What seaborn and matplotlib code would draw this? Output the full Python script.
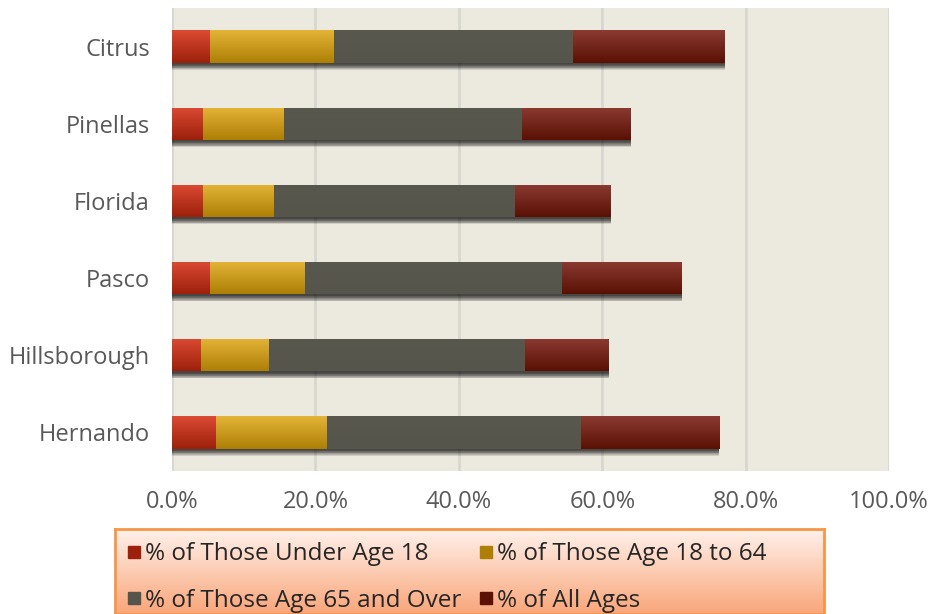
import numpy as np
import pandas as pd
import seaborn as sns
import matplotlib.pyplot as plt
from matplotlib import patheffects
from matplotlib.colors import to_rgb
from matplotlib.lines import Line2D
from matplotlib.ticker import PercentFormatter

# datos (porcentajes)
counties = ['Citrus', 'Pinellas', 'Florida', 'Pasco', 'Hillsborough', 'Hernando']
under_18 = [5.2, 4.3, 4.2, 5.2, 4.0, 6.0]
age_18_64 = [17.3, 11.3, 10.0, 13.3, 9.5, 15.5]
age_65_over = [33.3, 33.1, 33.5, 35.8, 35.6, 35.5]
all_ages = [21.2, 15.2, 13.5, 16.8, 11.8, 19.3]

series_names = ['% of Those Under Age 18', '% of Those Age 18 to 64',
                '% of Those Age 65 and Over', '% of All Ages']
# (arriba, abajo) para el degradado de cada serie
series_colors = [('#DC4A33', '#9C200B'), ('#E3B437', '#AD7F05'),
                 ('#58584F', '#55554C'), ('#8B3A31', '#5A1104')]

df = pd.DataFrame({'county': counties, series_names[0]: under_18,
                   series_names[1]: age_18_64, series_names[2]: age_65_over,
                   series_names[3]: all_ages})
cum = df[series_names].cumsum(axis=1)
cum['county'] = df['county']

sns.set_style('white')
plt.rcParams['font.family'] = ['Open Sans', 'DejaVu Sans']

fig = plt.figure(figsize=(9.3, 6.14), dpi=100)
ax = fig.add_axes([172 / 930, 1 - 471 / 614, (889 - 172) / 930, (471 - 8) / 614])
ax.set_facecolor('#ECE9DF')

# sombra difusa solo para la barra total
shadow = [patheffects.SimplePatchShadow(offset=(0.3, -k), shadow_rgbFace='k', alpha=0.12)
          for k in [1, 1.5, 2, 2.5, 3, 3.5, 4, 4.5, 5]] + [patheffects.Normal()]

# barras apiladas: se dibuja el acumulado de mayor a menor
for i in reversed(range(4)):
    top_c, bot_c = series_colors[i]
    n0 = len(ax.patches)
    sns.barplot(data=cum, x=series_names[i], y='county', orient='h',
                color=bot_c, saturation=1, width=0.42, ax=ax)
    grad = np.linspace(0, 1, 64)[:, None, None]
    img = (1 - grad) * np.array(to_rgb(top_c)) + grad * np.array(to_rgb(bot_c))
    for p in ax.patches[n0:]:
        p.set_zorder(2 + 2 * (3 - i))
        p.set_linewidth(0)
        if i == 3:
            p.set_path_effects(shadow)
        x0, y0 = p.get_x(), p.get_y()
        w, h = p.get_width(), p.get_height()
        im = ax.imshow(img, extent=[x0, x0 + w, y0 + h, y0], origin='upper',
                       aspect='auto', zorder=3 + 2 * (3 - i), interpolation='bilinear')
        im.set_clip_path(p)

ax.set_xlim(0, 100)
ax.set_ylim(5.5, -0.5)
ax.set_xticks([0, 20, 40, 60, 80, 100])
ax.xaxis.set_major_formatter(PercentFormatter(xmax=100, decimals=1))
ax.grid(axis='x', color='#D8D6D1', lw=2)
ax.set_axisbelow(True)
for s in ax.spines.values():
    s.set_visible(False)
ax.set_xlabel('')
ax.set_ylabel('')
ax.tick_params(axis='both', length=0, labelsize=17, labelcolor='#595959')
ax.tick_params(axis='y', pad=16)
ax.tick_params(axis='x', pad=14)

# caja de la leyenda con degradado
lax = fig.add_axes([115 / 930, 0, (824 - 115) / 930, (614 - 529) / 614])
lg = np.linspace(0, 1, 64)[:, None, None]
lax.imshow((1 - lg) * np.array(to_rgb('#FFF1EB')) + lg * np.array(to_rgb('#F9A67A')),
           extent=[0, 1, 0, 1], aspect='auto')
lax.set_xticks([])
lax.set_yticks([])
for s in lax.spines.values():
    s.set_color('#F79646')
    s.set_linewidth(2)

handles = [Line2D([], [], ls='', marker='s', markersize=8,
                  markerfacecolor=c[1], markeredgecolor=c[1]) for c in series_colors]
order = [0, 2, 1, 3]
lax.legend([handles[k] for k in order], [series_names[k] for k in order], ncol=2,
           loc='upper left', bbox_to_anchor=(0.0, 1.0), frameon=False, fontsize=17.5,
           handlelength=0.5, handletextpad=0.2, columnspacing=0.75,
           labelspacing=0.92, borderaxespad=0.05, borderpad=0.5)

fig.savefig('out.png', dpi=100)
